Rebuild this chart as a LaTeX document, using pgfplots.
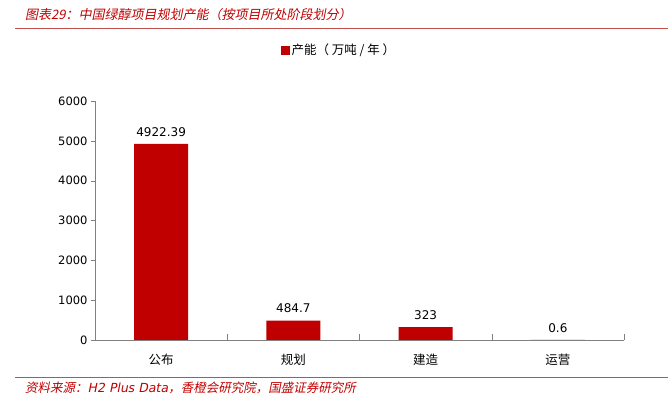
\documentclass[border=0pt]{standalone}
\usepackage{fontspec}
\setmainfont{DejaVu Sans}
\newfontfamily\cjk{Noto Sans CJK SC}
\newfontfamily\cjkit[FakeSlant=0.2]{Noto Sans CJK SC}
\newfontfamily\latit[FakeSlant=0.2]{DejaVu Sans}
\usepackage{pgfplots}
\pgfplotsset{compat=1.18}
\definecolor{barred}{HTML}{C00000}
\definecolor{linered}{HTML}{C0504D}
\begin{document}
\begin{tikzpicture}[x=1pt,y=1pt]
\path[use as bounding box] (0,0) rectangle (671,398);
% title and rules
\node[anchor=west,text=barred,font=\cjkit\fontsize{13}{15}\selectfont,inner sep=0pt] at (25,383) {图表29：中国绿醇项目规划产能（按项目所处阶段划分）};
\draw[linered,line width=1pt] (15,369) -- (668,369);
\draw[linered,line width=1pt] (15,20) -- (668,20);
\node[anchor=west,text=barred,font=\cjkit\fontsize{12.5}{14}\selectfont,inner sep=0pt] at (25,10) {资料来源：{\latit H2 Plus Data}，香橙会研究院，国盛证券研究所};
\begin{axis}[
  at={(95pt,58pt)}, anchor=south west,
  scale only axis, width=529pt, height=239pt,
  xmin=-0.5, xmax=3.5, ymin=0, ymax=6000,
  axis x line*=bottom, axis y line*=left,
  axis line style={gray},
  ytick={0,1000,2000,3000,4000,5000,6000},
  xtick={0,1,2,3}, xticklabels={公布,规划,建造,运营},
  extra x ticks={0.5,1.5,2.5,3.5},
  extra x tick labels={},
  extra x tick style={major tick length=6pt, tick align=inside, major x tick style={draw=gray}},
  major x tick style={draw=none},
  y tick style={gray},
  ytick align=outside, major tick length=4pt,
  tick pos=left,
  x tick label style={font=\cjk\fontsize{12.5}{14}\selectfont, yshift=-6pt},
  y tick label style={font=\fontsize{11.5}{13}\selectfont},
  /pgf/number format/assume math mode=true,
  scaled y ticks=false,
  yticklabel style={/pgf/number format/1000 sep={}},
  ybar, bar width=54pt,
  nodes near coords,
  nodes near coords style={font=\fontsize{12}{13}\selectfont, black, yshift=4pt},
  point meta=explicit symbolic,
  legend style={draw=none, at={(0.461,1.213)}, anchor=center, font=\cjk\fontsize{12.5}{14}\selectfont},
  legend image code/.code={\fill[barred] (0pt,-4.5pt) rectangle (9pt,4.5pt);},
  clip=false,
]
\addplot[fill=barred, draw=none] coordinates {(0,4922.39) [4922.39] (1,484.7) [484.7] (2,323) [323] (3,0.6) [0.6]};
\addlegendentry{产能（ 万吨 / 年 ）}
\end{axis}
\end{tikzpicture}
\end{document}
